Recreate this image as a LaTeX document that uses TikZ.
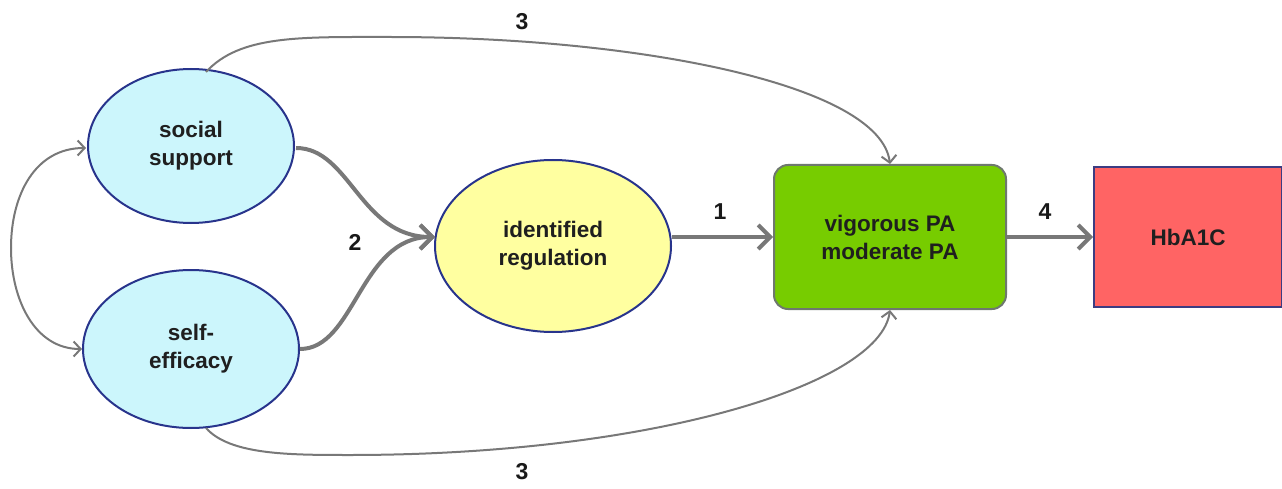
\documentclass[tikz,border=0pt]{standalone}
\usepackage{fontspec}
\setmainfont{Liberation Sans}
\usetikzlibrary{arrows.meta,shapes.geometric}
\definecolor{cyanfill}{RGB}{204,246,252}
\definecolor{blueline}{RGB}{40,52,140}
\definecolor{yellowfill}{RGB}{255,255,160}
\definecolor{greenfill}{RGB}{119,204,0}
\definecolor{greenline}{RGB}{110,120,110}
\definecolor{redfill}{RGB}{255,100,100}
\definecolor{redline}{RGB}{60,60,130}
\definecolor{arrowgray}{RGB}{120,120,120}
\tikzset{
  lbl/.style={font=\fontsize{22.5}{28}\selectfont\bfseries, text=black!88},
  ell/.style={ellipse, draw=blueline, line width=2pt, inner sep=0pt, align=center, lbl},
  thick arrow/.style={draw=arrowgray, line width=4pt, -{Straight Barb[length=12pt,width=24pt,line width=4pt]}},
  thin arrow/.style={draw=arrowgray, line width=2pt, -{Straight Barb[length=7pt,width=15pt,line width=2pt]}},
  num/.style={font=\fontsize{23}{26}\selectfont\bfseries, text=black!90}
}
\begin{document}
\begin{tikzpicture}[x=1pt,y=-1pt]
\useasboundingbox (0,0) rectangle (1282,489);
\node[ell, fill=cyanfill, minimum width=206pt, minimum height=154pt] (ss) at (191,146) {social\\support};
\node[ell, fill=cyanfill, minimum width=216pt, minimum height=158pt] (se) at (191,349) {self-\\efficacy};
\node[ell, fill=yellowfill, minimum width=236pt, minimum height=172pt] (ir) at (553,246) {identified\\regulation};
\node[draw=greenline, line width=2pt, fill=greenfill, rounded corners=14pt, minimum width=232pt, minimum height=144pt, align=center, lbl] (pa) at (890,237) {vigorous PA\\moderate PA};
\node[draw=redline, line width=2pt, fill=redfill, minimum width=188pt, minimum height=140pt, lbl, anchor=west] (hb) at (1093,237) {HbA1C};

\coordinate (irw) at (435,237);
% 2
\draw[thick arrow] (296,148) .. controls (350,148) and (360,237) .. (irw);
\draw[thick arrow] (300,349) .. controls (355,349) and (360,237) .. (irw);
\node[num] (n2) at (355,242) {2};
% 1
\draw[thick arrow] (672,237) -- (pa.west);
\node[num] (n1) at (720,212) {1};
% 4
\draw[thick arrow] (pa.east) -- (hb.west);
\node[num] (n4) at (1045,212) {4};
% correlation
\coordinate (cl) at (11,248);
\draw[thin arrow] (cl) .. controls (11,195) and (35,148) .. (86,148);
\draw[thin arrow] (cl) .. controls (11,300) and (35,349) .. (82,349);
% 3 top
\draw[thin arrow] (206,72) .. controls (240,35) and (300,37) .. (390,37) .. controls (640,37) and (880,85) .. (pa.north);
\node[num] (n3a) at (522,22) {3};
% 3 bottom
\draw[thin arrow] (206,428) .. controls (230,455) and (290,455) .. (350,455) .. controls (650,455) and (880,385) .. (pa.south);
\node[num] (n3b) at (522,472) {3};
\end{tikzpicture}
\end{document}
